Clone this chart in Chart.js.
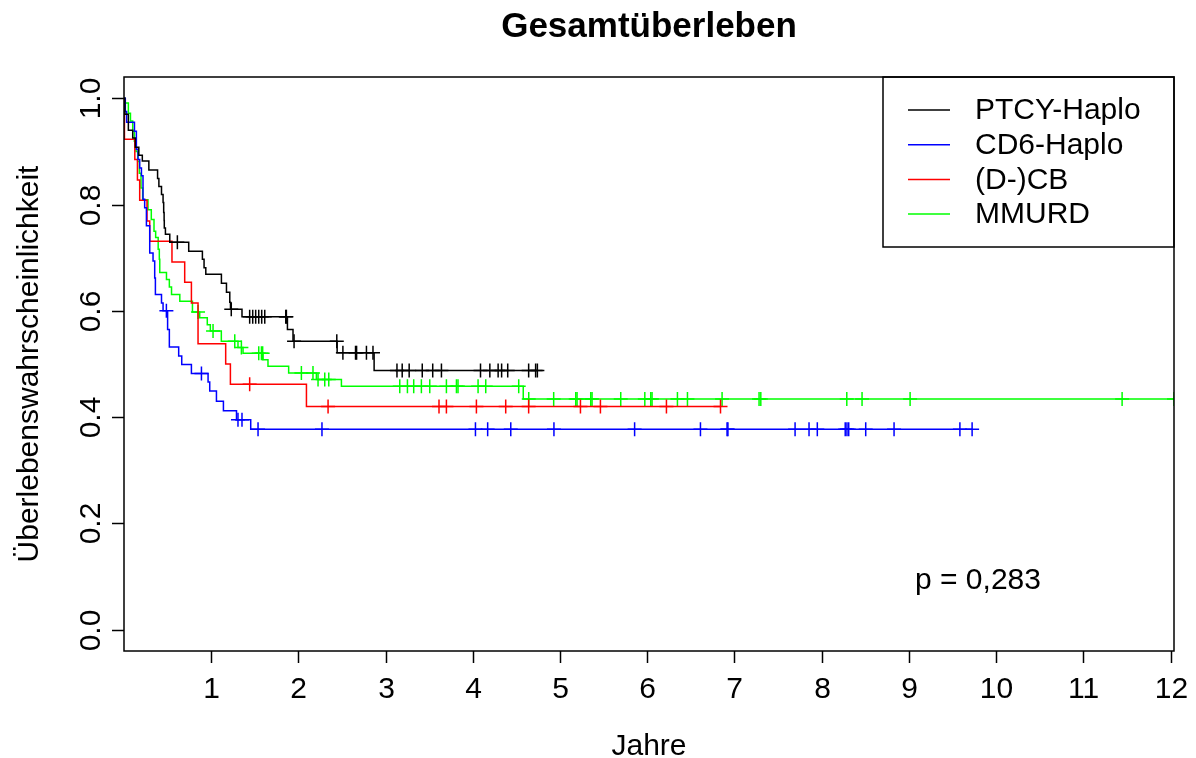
<!DOCTYPE html>
<html>
<head>
<meta charset="utf-8">
<script src="https://cdn.jsdelivr.net/npm/chart.js@4"></script>
<style>
  body { margin: 0; background: #fff; }
  canvas { display: block; }
</style>
</head>
<body>
<canvas id="km" width="1196" height="758"></canvas>
<script>
// Kaplan-Meier data (Jahre / Ueberlebenswahrscheinlichkeit)
var groupNames = ['PTCY-Haplo', 'CD6-Haplo', '(D-)CB', 'MMURD'];
var groupColors = ['#000000', '#0000ff', '#ff0000', '#00ff00'];

var ptcyTimes = [0, 0.01, 0.05, 0.10, 0.13, 0.17, 0.21, 0.285, 0.385, 0.40, 0.43, 0.448, 0.455, 0.46, 0.462, 0.475, 0.525, 0.742, 0.899, 0.918, 0.938, 1.117, 1.175, 1.213, 1.221, 1.353, 1.874, 1.938, 2.444, 2.868];
var ptcySurv = [1, 0.97, 0.94, 0.925, 0.908, 0.893, 0.882, 0.865, 0.849, 0.834, 0.819, 0.804, 0.785, 0.77, 0.756, 0.744, 0.729, 0.712, 0.697, 0.681, 0.669, 0.652, 0.635, 0.616, 0.603, 0.589, 0.565, 0.543, 0.521, 0.488];
var ptcyCens = [0.612, 1.23, 1.441, 1.476, 1.51, 1.545, 1.579, 1.614, 1.855, 1.862, 1.95, 2.44, 2.51, 2.655, 2.667, 2.78, 2.855, 3.13, 3.19, 3.27, 3.42, 3.54, 3.64, 4.088, 4.195, 4.29, 4.33, 4.40, 4.64, 4.72, 4.74];

var cd6Times = [0, 0.015, 0.03, 0.12, 0.142, 0.161, 0.18, 0.20, 0.218, 0.237, 0.257, 0.295, 0.333, 0.352, 0.36, 0.43, 0.448, 0.50, 0.52, 0.627, 0.662, 0.773, 0.964, 0.983, 1.06, 1.14, 1.29, 1.453];
var cd6Surv = [1, 0.975, 0.955, 0.938, 0.904, 0.885, 0.869, 0.854, 0.81, 0.794, 0.76, 0.709, 0.694, 0.662, 0.631, 0.615, 0.60, 0.565, 0.532, 0.515, 0.499, 0.482, 0.466, 0.449, 0.43, 0.412, 0.395, 0.377];
var cd6Cens = [0.486, 0.888, 1.307, 1.353, 1.537, 2.27, 4.03, 4.17, 4.435, 4.93, 5.855, 6.61, 6.915, 6.925, 7.695, 7.855, 7.95, 8.27, 8.29, 8.31, 8.505, 8.83, 9.585, 9.725];

var cbTimes = [0, 0.005, 0.124, 0.154, 0.18, 0.264, 0.295, 0.55, 0.696, 0.773, 0.849, 1.166, 1.22, 2.092];
var cbSurv = [1, 0.923, 0.885, 0.846, 0.808, 0.769, 0.731, 0.692, 0.654, 0.615, 0.538, 0.50, 0.462, 0.42];
var cbCens = [1.441, 2.34, 3.612, 3.697, 4.041, 4.377, 4.64, 5.234, 5.463, 6.22, 6.84];

var mmurdTimes = [0, 0.011, 0.05, 0.074, 0.10, 0.119, 0.138, 0.157, 0.176, 0.195, 0.214, 0.275, 0.313, 0.344, 0.363, 0.392, 0.405, 0.41, 0.487, 0.52, 0.545, 0.64, 0.785, 0.868, 0.955, 0.99, 1.116, 1.307, 1.365, 1.594, 1.651, 1.888, 2.206, 2.493, 4.578];
var mmurdSurv = [1, 0.991, 0.972, 0.957, 0.938, 0.919, 0.90, 0.881, 0.859, 0.831, 0.809, 0.79, 0.772, 0.75, 0.738, 0.716, 0.697, 0.672, 0.659, 0.645, 0.631, 0.618, 0.598, 0.587, 0.574, 0.562, 0.543, 0.531, 0.52, 0.508, 0.496, 0.483, 0.471, 0.458, 0.434];
var mmurdCens = [0.849, 1.021, 1.27, 1.346, 1.545, 1.576, 1.59, 2.034, 2.167, 2.225, 2.302, 2.348, 3.162, 3.25, 3.322, 3.41, 3.506, 3.697, 3.812, 3.83, 4.06, 4.148, 4.526, 4.641, 4.927, 5.18, 5.195, 5.352, 5.367, 5.696, 5.972, 6.04, 6.055, 6.346, 6.461, 6.858, 7.282, 7.302, 8.288, 8.463, 9.014, 11.445, 12.04];

var xTicks = [1, 2, 3, 4, 5, 6, 7, 8, 9, 10, 11, 12];
var yTicks = [0, 0.2, 0.4, 0.6, 0.8, 1.0];
var yTickLabels = ['0.0', '0.2', '0.4', '0.6', '0.8', '1.0'];
var pValueText = 'p = 0,283';

var allTimes = [ptcyTimes, cd6Times, cbTimes, mmurdTimes];
var allSurv = [ptcySurv, cd6Surv, cbSurv, mmurdSurv];
var allCens = [ptcyCens, cd6Cens, cbCens, mmurdCens];

var FONT = '"Liberation Sans", Arial, sans-serif';

function survAt(times, surv, t) {
    var s = 1;
    for (var i = 0; i < times.length; i++) {
        if (times[i] <= t) s = surv[i];
    }
    return s;
}

var datasets = [];
groupNames.forEach(function(name, g) {
    var times = allTimes[g], surv = allSurv[g], cens = allCens[g];
    var pts = times.map(function(t, i) { return { x: t, y: surv[i] }; });
    var lastT = Math.max(times[times.length - 1], cens.length ? cens[cens.length - 1] : 0);
    pts.push({ x: lastT, y: surv[surv.length - 1] });
    datasets.push({
        label: name,
        data: pts,
        showLine: true,
        stepped: 'before',
        borderColor: groupColors[g],
        borderWidth: 1.5,
        pointRadius: 0
    });
    datasets.push({
        label: name + ' zensiert',
        data: cens.map(function(t) { return { x: t, y: survAt(times, surv, t) }; }),
        showLine: false,
        pointStyle: 'cross',
        pointRadius: 7,
        borderColor: groupColors[g],
        borderWidth: 1.5
    });
});

var frame = {
    id: 'frame',
    beforeDraw: function(chart) {
        var ctx = chart.ctx;
        ctx.save();
        ctx.fillStyle = '#fff';
        ctx.fillRect(0, 0, chart.width, chart.height);
        ctx.restore();
    },
    afterDraw: function(chart) {
        var ctx = chart.ctx, a = chart.chartArea;
        var xs = chart.scales.x, ys = chart.scales.y;
        ctx.save();
        ctx.strokeStyle = '#000';
        ctx.fillStyle = '#000';
        ctx.lineWidth = 1.5;
        ctx.strokeRect(a.left, a.top, a.right - a.left, a.bottom - a.top);

        // x axis
        ctx.font = '30px ' + FONT;
        ctx.textAlign = 'center';
        ctx.textBaseline = 'alphabetic';
        xTicks.forEach(function(v) {
            var px = Math.round(xs.getPixelForValue(v)) + 0.5;
            ctx.beginPath();
            ctx.moveTo(px, a.bottom);
            ctx.lineTo(px, a.bottom + 12);
            ctx.stroke();
            ctx.fillText(String(v), px, 698);
        });

        // y axis
        yTicks.forEach(function(v, i) {
            var py = Math.round(ys.getPixelForValue(v)) + 0.5;
            ctx.beginPath();
            ctx.moveTo(a.left, py);
            ctx.lineTo(a.left - 12, py);
            ctx.stroke();
            ctx.save();
            ctx.translate(100, py);
            ctx.rotate(-Math.PI / 2);
            ctx.fillText(yTickLabels[i], 0, 0);
            ctx.restore();
        });

        // axis titles
        var cx = (a.left + a.right) / 2, cy = (a.top + a.bottom) / 2;
        ctx.fillText('Jahre', cx, 755);
        ctx.save();
        ctx.translate(38, cy);
        ctx.rotate(-Math.PI / 2);
        ctx.fillText('Überlebenswahrscheinlichkeit', 0, 0);
        ctx.restore();

        // title
        ctx.font = 'bold 35px ' + FONT;
        ctx.fillText('Gesamtüberleben', cx, 37);

        // legend
        var lx = 883, ly = a.top, lw = a.right - 883, lh = 170;
        ctx.strokeRect(lx, ly, lw, lh);
        ctx.font = '30px ' + FONT;
        ctx.textAlign = 'left';
        ctx.textBaseline = 'middle';
        groupNames.forEach(function(name, g) {
            var y = 110 + g * 34.7;
            ctx.strokeStyle = groupColors[g];
            ctx.beginPath();
            ctx.moveTo(908, y);
            ctx.lineTo(950, y);
            ctx.stroke();
            ctx.fillText(name, 975, y + 1);
        });

        // p-value
        ctx.fillText(pValueText, 915, 581);
        ctx.restore();
    }
};

new Chart(document.getElementById('km').getContext('2d'), {
    type: 'scatter',
    data: { datasets: datasets },
    options: {
        responsive: false,
        animation: false,
        layout: { padding: { left: 124, right: 22, top: 77, bottom: 107 } },
        scales: {
            x: { type: 'linear', min: 0, max: 12.04, display: false },
            y: { type: 'linear', min: -0.04, max: 1.04, display: false }
        },
        plugins: {
            legend: { display: false },
            tooltip: { enabled: false }
        }
    },
    plugins: [frame]
});
</script>
</body>
</html>
